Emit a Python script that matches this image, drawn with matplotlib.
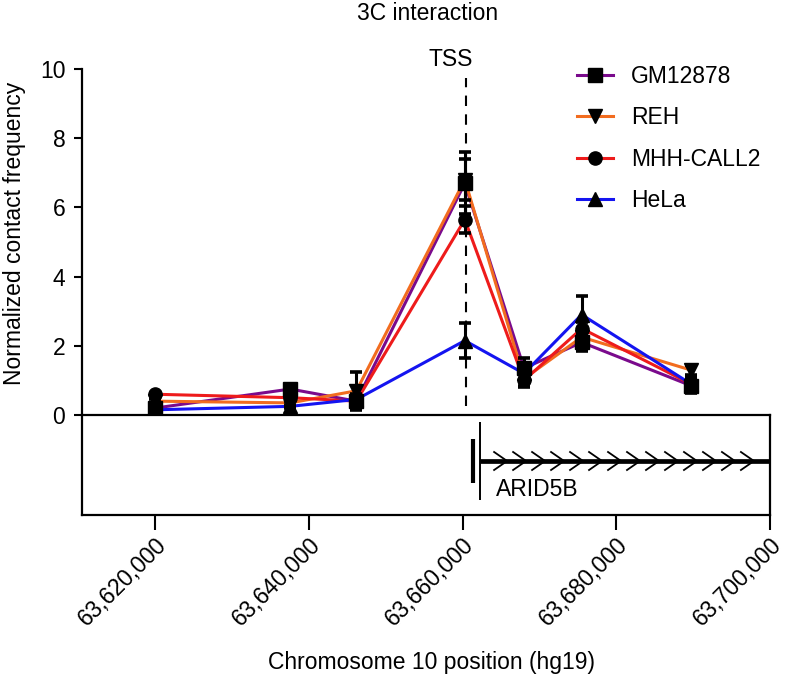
import numpy as np
import matplotlib
matplotlib.use("Agg")
import matplotlib.pyplot as plt
from matplotlib.transforms import ScaledTranslation

plt.rcParams['font.family'] = ['Liberation Sans', 'DejaVu Sans']

# Данные: позиции фрагментов и частоты контактов
positions = [63620000, 63637600, 63646200, 63660300, 63668000, 63675500, 63689700]

series_names = ['GM12878', 'REH', 'MHH-CALL2', 'HeLa']
gm12878 = [0.2, 0.75, 0.4, 6.7, 1.35, 2.1, 0.85]
gm12878_err = [0.1, 0.15, 0.15, 0.9, 0.3, 0.25, 0.2]
reh = [0.4, 0.35, 0.7, 6.8, 1.05, 2.25, 1.3]
reh_err = [0.05, 0.1, 0.55, 0.6, 0.2, 0.2, 0.15]
mhh = [0.6, 0.5, 0.4, 5.65, 1.0, 2.5, 0.9]
mhh_err = [0.05, 0.1, 0.2, 0.4, 0.2, 0.2, 0.2]
hela = [0.15, 0.25, 0.45, 2.15, 1.2, 2.9, 0.9]
hela_err = [0.05, 0.05, 0.1, 0.5, 0.15, 0.55, 0.15]

tss = 63660400
gene_name = 'ARID5B'
gene_start = 63662300
gene_cds_start = 63661300

xticks = [63620000, 63640000, 63660000, 63680000, 63700000]
xticklabels = ['63,620,000', '63,640,000', '63,660,000', '63,680,000', '63,700,000']
yticks = [0, 2, 4, 6, 8, 10]

colors = ['#7a0a8c', '#f26c1f', '#ee1b1b', '#1414f0']
markers = ['s', 'v', 'o', '^']

FS = 16.5
W, H = 786, 674
fig = plt.figure(figsize=(W / 100, H / 100), dpi=100)

xlim = (63610500, 63700000)

# верхняя панель
ax = fig.add_axes([82 / W, 1 - 415 / H, (770 - 82) / W, (415 - 69) / H])
ax.set_xlim(*xlim)
ax.set_ylim(0, 10)
for s in ['top', 'right', 'bottom']:
    ax.spines[s].set_visible(False)
ax.spines['left'].set_linewidth(1.6)
ax.set_xticks([])
ax.set_yticks(yticks)
ax.tick_params(axis='y', labelsize=FS, length=6, width=1.5, pad=6)

ax.plot([tss, tss], [0.25, 9.75], color='black', lw=1.5, dashes=(5, 4), zorder=1)
ax.text(tss - 2000, 10.28, 'TSS', ha='center', va='center', fontsize=FS, clip_on=False)

data = [gm12878, reh, mhh, hela]
errs = [gm12878_err, reh_err, mhh_err, hela_err]
for name, y, c in zip(series_names, data, colors):
    ax.plot(positions, y, color=c, lw=2.2, zorder=2, clip_on=False)
for y, e in zip(data, errs):
    ax.errorbar(positions, y, yerr=e, fmt='none', ecolor='black', elinewidth=2.2,
                capsize=4.5, capthick=2.6, zorder=3, clip_on=False)
for name, y, m, c in zip(series_names, data, markers, colors):
    ax.plot(positions, y, linestyle='none', marker=m, color='black', ms=9.5,
            zorder=4, clip_on=False)

handles = [plt.Line2D([], [], color=c, lw=2.2, marker=m, mfc='black', mec='black', ms=9.5)
           for c, m in zip(colors, markers)]
ax.legend(handles, series_names, loc='upper left', bbox_to_anchor=(577 / W, 1 - 65 / H),
          bbox_transform=fig.transFigure, frameon=False, fontsize=FS, borderpad=0,
          borderaxespad=0, handlelength=1.55, handletextpad=0.8, labelspacing=0.8)

# нижняя панель: ген
ax2 = fig.add_axes([82 / W, 1 - 515 / H, (770 - 82) / W, 100 / H])
ax2.set_xlim(*xlim)
ax2.set_ylim(0, 1)
for s in ax2.spines.values():
    s.set_linewidth(1.6)
ax2.set_yticks([])
ax2.set_xticks(xticks)
ax2.set_xticklabels(xticklabels, rotation=45, ha='right', va='center',
                    rotation_mode='anchor', fontsize=FS)
ax2.tick_params(axis='x', length=11, width=1.5, pad=8)
for lab in ax2.get_xticklabels():
    lab.set_transform(lab.get_transform() + ScaledTranslation(0.08, 0, fig.dpi_scale_trans))

yg = 0.54
ax2.plot([gene_start, xlim[1]], [yg, yg], color='black', lw=3.4, solid_capstyle='butt')
ax2.plot([gene_cds_start, gene_cds_start], [0.32, 0.76], color='black', lw=3, solid_capstyle='butt')
ax2.plot([gene_start, gene_start], [0.15, 0.93], color='black', lw=1.4, solid_capstyle='butt')
chev_step = 2470
chev_w = 1690
for xa in np.arange(gene_start + 3500, xlim[1] + 300, chev_step):
    ax2.plot([xa - chev_w, xa, xa - chev_w], [yg + 0.09, yg, yg - 0.09],
             color='black', lw=1.3, clip_on=False)
ax2.text(gene_start + 2000, 0.26, gene_name, ha='left', va='center', fontsize=FS)

fig.text(428 / W, 1 - 13 / H, '3C interaction', ha='center', va='center', fontsize=FS)
fig.text(15 / W, 1 - 233 / H, 'Normalized contact frequency', ha='center', va='center',
         rotation=90, fontsize=FS)
fig.text(432 / W, 1 - 662 / H, 'Chromosome 10 position (hg19)', ha='center', va='center',
         fontsize=FS)

fig.savefig('out.png', dpi=100)
